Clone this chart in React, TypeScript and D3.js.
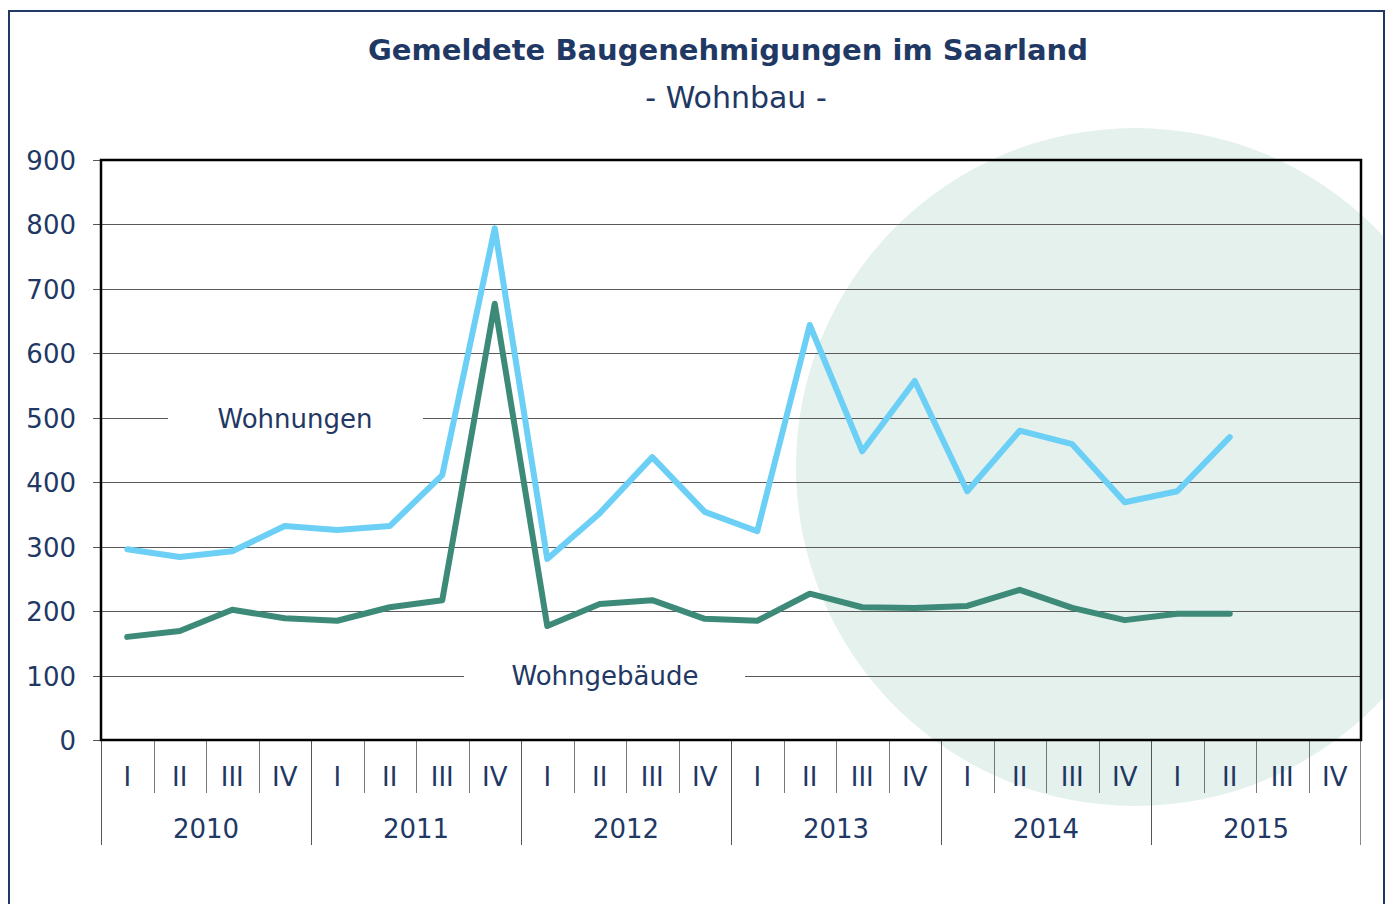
import React, { useEffect, useRef } from 'react';
import * as d3 from 'd3';

// Gemeldete Baugenehmigungen im Saarland, quarterly 2010–2015
const years = ['2010', '2011', '2012', '2013', '2014', '2015'];
const quarters = ['I', 'II', 'III', 'IV'];
const wohnungen = [
  296, 284, 293, 332, 326, 332, 411, 794, 281, 352, 439, 354,
  324, 644, 448, 557, 386, 480, 459, 369, 386, 470,
];
const wohngebaeude = [
  160, 169, 202, 189, 185, 206, 217, 677, 177, 211, 217, 188,
  185, 227, 206, 205, 208, 233, 205, 186, 196, 196,
];
const yTicks = [0, 100, 200, 300, 400, 500, 600, 700, 800, 900];

const W = 1389;
const H = 904;
const LEFT = 101;
const RIGHT = 1361;
const TOP = 160;
const BOTTOM = 740;
const NAVY = '#1f3864';
const FONT = '"DejaVu Sans", Verdana, sans-serif';

export default function App() {
  const svgRef = useRef<SVGSVGElement>(null);

  useEffect(() => {
    const svg = d3.select(svgRef.current).attr('width', W).attr('height', H);
    svg.selectAll('*').remove();
    svg.append('rect').attr('width', W).attr('height', H).attr('fill', 'white');

    const slots = years.flatMap((yr) => quarters.map((q) => `${q}-${yr}`));
    const x = d3.scaleBand<string>().domain(slots).range([LEFT, RIGHT]);
    const y = d3.scaleLinear().domain([0, 900]).range([BOTTOM, TOP]);
    const cx = (i: number) => (x(slots[i]) ?? 0) + x.bandwidth() / 2;

    // frame clip for the decorative circle
    svg
      .append('clipPath')
      .attr('id', 'frameClip')
      .append('rect')
      .attr('x', 9)
      .attr('y', 11)
      .attr('width', 1375)
      .attr('height', H);

    svg
      .append('circle')
      .attr('clip-path', 'url(#frameClip)')
      .attr('cx', 1135)
      .attr('cy', 467)
      .attr('r', 339)
      .attr('fill', '#e4f1ec');

    // gridlines
    svg
      .append('g')
      .selectAll('line')
      .data(yTicks.slice(1, -1))
      .enter()
      .append('line')
      .attr('x1', LEFT)
      .attr('x2', RIGHT)
      .attr('y1', (d) => Math.round(y(d)) + 0.5)
      .attr('y2', (d) => Math.round(y(d)) + 0.5)
      .attr('stroke', '#5a5a5a')
      .attr('stroke-width', 1);

    // y ticks + labels
    const yAxis = svg.append('g');
    yTicks.forEach((t) => {
      const yy = Math.round(y(t)) + 0.5;
      yAxis
        .append('line')
        .attr('x1', 93)
        .attr('x2', LEFT)
        .attr('y1', yy)
        .attr('y2', yy)
        .attr('stroke', '#555');
      yAxis
        .append('text')
        .attr('x', 76)
        .attr('y', yy)
        .attr('dy', '0.36em')
        .attr('text-anchor', 'end')
        .attr('font-family', FONT)
        .attr('font-size', 26)
        .attr('fill', NAVY)
        .text(t);
    });

    // category axis: quarter and year separators
    const catAxis = svg.append('g');
    slots.forEach((s, i) => {
      const xx = Math.round(x(s) ?? 0) + 0.5;
      const isYear = i % 4 === 0;
      catAxis
        .append('line')
        .attr('x1', xx)
        .attr('x2', xx)
        .attr('y1', BOTTOM)
        .attr('y2', isYear ? 845 : 793)
        .attr('stroke', isYear ? '#555' : '#777');
      catAxis
        .append('text')
        .attr('x', cx(i))
        .attr('y', 786)
        .attr('text-anchor', 'middle')
        .attr('font-family', FONT)
        .attr('font-size', 26)
        .attr('fill', NAVY)
        .text(quarters[i % 4]);
    });
    catAxis
      .append('line')
      .attr('x1', RIGHT - 0.5)
      .attr('x2', RIGHT - 0.5)
      .attr('y1', BOTTOM)
      .attr('y2', 845)
      .attr('stroke', '#888');
    years.forEach((yr, k) => {
      catAxis
        .append('text')
        .attr('x', cx(k * 4) + x.bandwidth() * 1.5)
        .attr('y', 838)
        .attr('text-anchor', 'middle')
        .attr('font-family', FONT)
        .attr('font-size', 26)
        .attr('fill', NAVY)
        .text(yr);
    });

    // plot border
    svg
      .append('rect')
      .attr('x', LEFT)
      .attr('y', TOP)
      .attr('width', RIGHT - LEFT)
      .attr('height', BOTTOM - TOP)
      .attr('fill', 'none')
      .attr('stroke', 'black')
      .attr('stroke-width', 2.5);

    // series labels on white boxes
    const labels = [
      { text: 'Wohnungen', x: 295, val: 500, x0: 168, x1: 423 },
      { text: 'Wohngebäude', x: 605, val: 100, x0: 464, x1: 745 },
    ];
    labels.forEach((l) => {
      svg
        .append('rect')
        .attr('x', l.x0)
        .attr('y', y(l.val) - 14)
        .attr('width', l.x1 - l.x0)
        .attr('height', 28)
        .attr('fill', 'white');
      svg
        .append('text')
        .attr('x', l.x)
        .attr('y', y(l.val))
        .attr('dy', '0.38em')
        .attr('text-anchor', 'middle')
        .attr('font-family', FONT)
        .attr('font-size', 26)
        .attr('fill', NAVY)
        .text(l.text);
    });

    // series lines
    const line = d3
      .line<number>()
      .x((_, i) => cx(i))
      .y((d) => y(d));
    [
      { data: wohnungen, color: '#6ccff6' },
      { data: wohngebaeude, color: '#3d8a78' },
    ].forEach((s) => {
      svg
        .append('path')
        .datum(s.data)
        .attr('fill', 'none')
        .attr('stroke', s.color)
        .attr('stroke-width', 6)
        .attr('stroke-linejoin', 'round')
        .attr('stroke-linecap', 'round')
        .attr('d', line);
    });

    // titles
    svg
      .append('text')
      .attr('x', 728)
      .attr('y', 60)
      .attr('text-anchor', 'middle')
      .attr('font-family', FONT)
      .attr('font-weight', 'bold')
      .attr('font-size', 29)
      .attr('fill', NAVY)
      .text('Gemeldete Baugenehmigungen im Saarland');
    svg
      .append('text')
      .attr('x', 736)
      .attr('y', 108)
      .attr('text-anchor', 'middle')
      .attr('font-family', FONT)
      .attr('font-size', 30)
      .attr('fill', NAVY)
      .text('- Wohnbau -');

    // outer frame
    svg
      .append('path')
      .attr('d', `M9,${H + 5}V11H1384V${H + 5}`)
      .attr('fill', 'none')
      .attr('stroke', NAVY)
      .attr('stroke-width', 2);
  }, []);

  return (
    <div style={{ position: 'absolute', left: 0, top: 0 }}>
      <svg ref={svgRef} style={{ display: 'block' }} />
    </div>
  );
}
